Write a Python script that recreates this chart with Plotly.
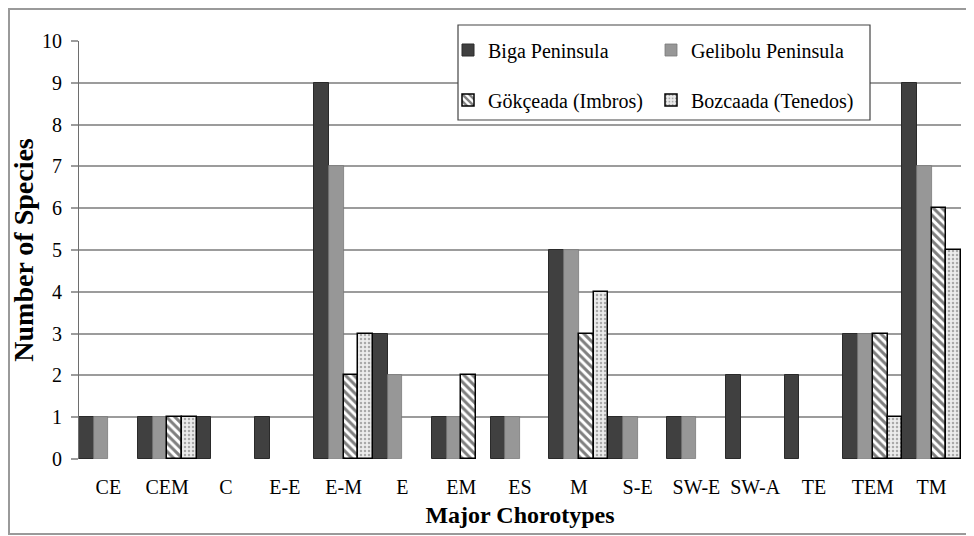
import plotly.graph_objects as go

categories = ["CE", "CEM", "C", "E-E", "E-M", "E", "EM", "ES", "M", "S-E",
              "SW-E", "SW-A", "TE", "TEM", "TM"]
biga = [1, 1, 1, 1, 9, 3, 1, 1, 5, 1, 1, 2, 2, 3, 9]
gelibolu = [1, 1, 0, 0, 7, 2, 1, 1, 5, 1, 1, 0, 0, 3, 7]
gokceada = [0, 1, 0, 0, 2, 0, 2, 0, 3, 0, 0, 0, 0, 3, 6]
bozcaada = [0, 1, 0, 0, 3, 0, 0, 0, 4, 0, 0, 0, 0, 1, 5]
y_ticks = list(range(0, 11))

FONT = "Liberation Serif"
OFF = 8                     # browser body margin
W, H = 974 - OFF, 536 - OFF
L, T = 79 - OFF, 41 - OFF
R = W - (961 - OFF)
B = H - (459 - OFF)
PW, PH = W - L - R, H - T - B


def nz(vals):
    return [v if v else None for v in vals]


def px_x(p):  # absolute page pixel -> paper
    return (p - OFF - L) / PW


def px_y(p):
    return (H - B - (p - OFF)) / PH


fig = go.Figure()
fig.add_trace(go.Bar(
    x=categories, y=nz(biga), name="Biga Peninsula", legend="legend",
    marker=dict(color="#404040", line=dict(color="#2a2a2a", width=1))))
fig.add_trace(go.Bar(
    x=categories, y=nz(gelibolu), name="Gelibolu Peninsula", legend="legend",
    marker=dict(color="#979797", line=dict(color="#7a7a7a", width=0.8))))
fig.add_trace(go.Bar(
    x=categories, y=nz(gokceada), name="Gökçeada (Imbros)", legend="legend2",
    marker=dict(color="white", line=dict(color="black", width=1.5),
                pattern=dict(shape="\\", fgcolor="black", bgcolor="white",
                             size=6, solidity=0.5))))
fig.add_trace(go.Bar(
    x=categories, y=nz(bozcaada), name="Bozcaada (Tenedos)", legend="legend2",
    marker=dict(color="#e6e6e6", line=dict(color="black", width=1.5),
                pattern=dict(shape=".", fgcolor="#666666", bgcolor="#ececec",
                             size=4, solidity=0.3))))

# legend frame and outer border
fig.add_shape(type="rect", xref="paper", yref="paper",
              x0=px_x(458), x1=px_x(870), y0=px_y(120), y1=px_y(25),
              fillcolor="white", line=dict(color="#444444", width=1.2),
              layer="above")
fig.add_shape(type="rect", xref="paper", yref="paper",
              x0=px_x(9), x1=px_x(990), y0=px_y(534), y1=px_y(9),
              fillcolor="rgba(0,0,0,0)", line=dict(color="#9a9a9a", width=2),
              layer="below")

leg_common = dict(orientation="h", xanchor="left", yanchor="middle",
                  bgcolor="rgba(0,0,0,0)", borderwidth=0,
                  font=dict(family=FONT, size=20, color="black"),
                  entrywidth=158, entrywidthmode="pixels",
                  itemclick=False, itemdoubleclick=False)

fig.update_layout(
    width=W, height=H,
    margin=dict(l=L, r=R, t=T, b=B, pad=0),
    paper_bgcolor="white", plot_bgcolor="white",
    barmode="group", bargap=0, bargroupgap=0,
    font=dict(family=FONT, size=20, color="black"),
    legend=dict(x=px_x(448), y=px_y(50), **leg_common),
    legend2=dict(x=px_x(448), y=px_y(100), **leg_common),
    xaxis=dict(
        type="category", categoryorder="array", categoryarray=categories,
        showgrid=False, showline=False, ticks="", ticklabelstandoff=14,
        tickfont=dict(family=FONT, size=20, color="black"),
        title=dict(text="<b>Major Chorotypes</b>", standoff=9,
                   font=dict(family=FONT, size=24, color="black")),
    ),
    yaxis=dict(
        range=[0, 10], tickvals=y_ticks, showgrid=True,
        gridcolor="#9c9c9c", gridwidth=1.5,
        showline=True, linecolor="#6e6e6e", linewidth=1.2,
        ticks="outside", ticklen=7, tickcolor="#9c9c9c", tickwidth=1.5,
        ticklabelstandoff=5,
        tickfont=dict(family=FONT, size=20, color="black"),
        zeroline=False,
        title=dict(text="<b>Number of Species</b>", standoff=3,
                   font=dict(family=FONT, size=28, color="black")),
    ),
)

fig.write_html("out.html")
